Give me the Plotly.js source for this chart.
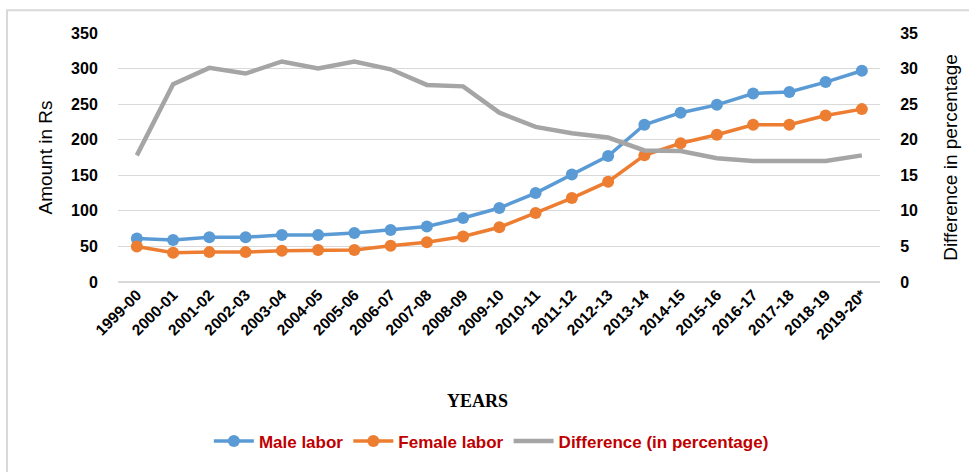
<!DOCTYPE html>
<html>
<head>
<meta charset="utf-8">
<script src="https://cdn.plot.ly/plotly-3.0.1.min.js"></script>
<style>html,body{margin:0;padding:0;background:#fff;}#chart{width:969px;height:472px;}</style>
</head>
<body>
<div id="chart"></div>
<script>
var years = ["1999-00","2000-01","2001-02","2002-03","2003-04","2004-05","2005-06","2006-07","2007-08","2008-09","2009-10","2010-11","2011-12","2012-13","2013-14","2014-15","2015-16","2016-17","2017-18","2018-19","2019-20*"];
var maleLabor = [61, 59, 63, 63, 66, 66, 69, 73, 78, 90, 104, 125, 151, 177, 221, 238, 249, 265, 267, 281, 297];
var femaleLabor = [50, 41, 42, 42, 44, 45, 45, 51, 56, 64, 77, 97, 118, 141, 178, 195, 207, 221, 221, 234, 243];
var differencePct = [17.8, 27.8, 30.1, 29.3, 31.0, 30.0, 31.0, 29.9, 27.7, 27.5, 23.8, 21.8, 20.9, 20.3, 18.5, 18.4, 17.4, 17.0, 17.0, 17.0, 17.8];

var seriesNames = ["Male labor", "Female labor", "Difference (in percentage)"];

var traces = [
  {x: years, y: maleLabor, name: seriesNames[0], type: "scatter", mode: "lines+markers",
   line: {color: "#5B9BD5", width: 3.5}, marker: {color: "#5B9BD5", size: 12}, yaxis: "y"},
  {x: years, y: femaleLabor, name: seriesNames[1], type: "scatter", mode: "lines+markers",
   line: {color: "#ED7D31", width: 3.5}, marker: {color: "#ED7D31", size: 12}, yaxis: "y"},
  {x: years, y: differencePct, name: seriesNames[2], type: "scatter", mode: "lines",
   line: {color: "#A5A5A5", width: 4.5}, yaxis: "y2"}
];

var tickFont = {family: "Liberation Sans, Arial, sans-serif", size: 16, color: "#000", weight: "bold"};

var layout = {
  width: 969, height: 472,
  margin: {l: 118, r: 89, t: 33, b: 187},
  paper_bgcolor: "#fff", plot_bgcolor: "#fff",
  showlegend: true,
  legend: {orientation: "h", x: 0.49, xanchor: "center", y: -0.64, yanchor: "middle",
    font: {family: "Liberation Sans, Arial, sans-serif", size: 17, color: "#C00000", weight: "bold"},
    itemwidth: 40, tracegroupgap: 0},
  xaxis: {type: "category", range: [-0.52, 20.5], tickangle: -45, showgrid: false, zeroline: false,
    showline: false, ticks: "", fixedrange: true,
    tickfont: {family: "Liberation Sans, Arial, sans-serif", size: 15.5, color: "#000", weight: "bold"}},
  yaxis: {range: [0, 350], dtick: 50, showgrid: true, gridcolor: "#D9D9D9", gridwidth: 1,
    zeroline: true, zerolinecolor: "#D9D9D9", zerolinewidth: 2, showline: false,
    ticks: "outside", ticklen: 16, tickcolor: "rgba(0,0,0,0)", tickfont: tickFont,
    title: {text: "Amount in Rs", font: {family: "Liberation Sans, Arial, sans-serif", size: 19, color: "#000"}, standoff: 13}},
  yaxis2: {range: [0, 35], dtick: 5, overlaying: "y", side: "right", showgrid: false, zeroline: false,
    showline: false, ticks: "outside", ticklen: 16, tickcolor: "rgba(0,0,0,0)", tickfont: tickFont,
    title: {text: "Difference in percentage", font: {family: "Liberation Sans, Arial, sans-serif", size: 19, color: "#000"}, standoff: 26}},
  annotations: [
    {text: "YEARS", xref: "paper", yref: "paper", x: 0.472, y: -0.476, xanchor: "center", yanchor: "middle",
     showarrow: false, font: {family: "Liberation Serif, Times New Roman, serif", size: 18, color: "#000", weight: "bold"}}
  ],
  shapes: [
    {type: "rect", xref: "paper", yref: "paper", x0: -0.1457, y0: 1.0913, x1: 1.25, y1: -0.9,
     line: {color: "#D9D9D9", width: 2}, fillcolor: "rgba(0,0,0,0)", layer: "below"}
  ]
};

Plotly.newPlot("chart", traces, layout, {displayModeBar: false, staticPlot: true});
</script>
</body>
</html>
